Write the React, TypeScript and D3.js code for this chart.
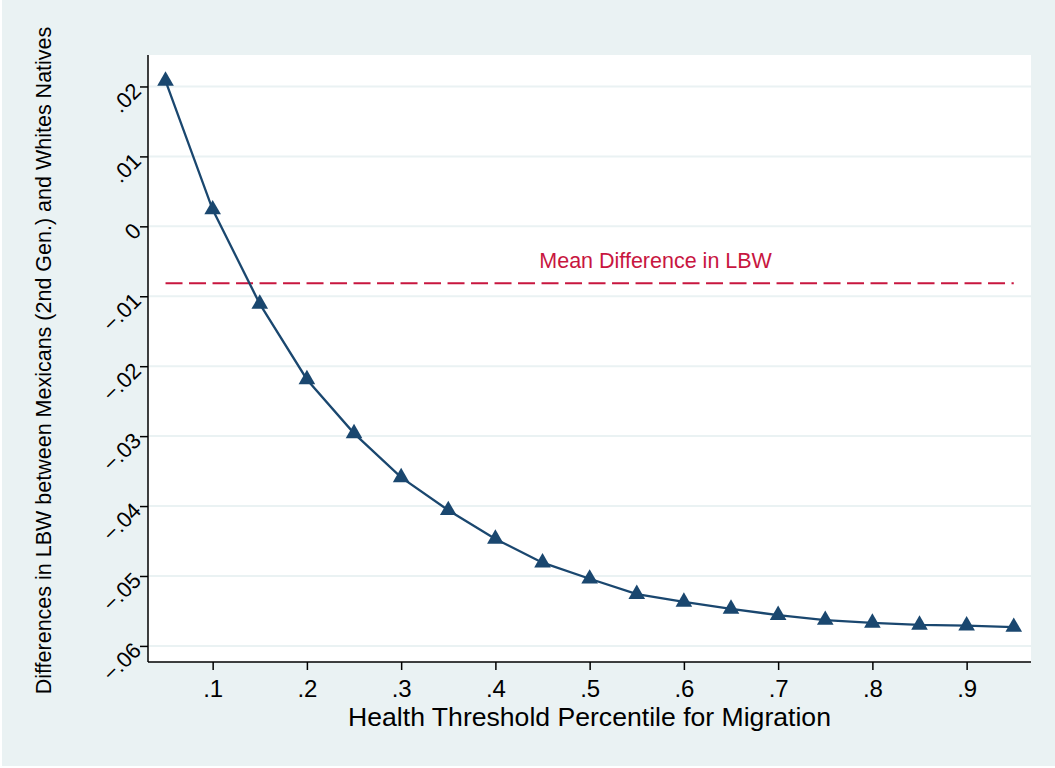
import React, { useEffect, useRef } from 'react';
import * as d3 from 'd3';

// Health threshold percentiles (x) and differences in LBW (y)
const thresholds = [0.05, 0.1, 0.15, 0.2, 0.25, 0.3, 0.35, 0.4, 0.45, 0.5, 0.55, 0.6, 0.65, 0.7, 0.75, 0.8, 0.85, 0.9, 0.95];
const differences = [
  0.0208, 0.0024, -0.0111, -0.0219, -0.0296, -0.0359, -0.0406, -0.0447, -0.0481, -0.0504,
  -0.0526, -0.0537, -0.0547, -0.0556, -0.0563, -0.0567, -0.057, -0.0571, -0.0573,
];
const meanDifference = -0.00814;
const meanLabel = 'Mean Difference in LBW';
const xTicks = [0.1, 0.2, 0.3, 0.4, 0.5, 0.6, 0.7, 0.8, 0.9];
const yTicks = [-0.06, -0.05, -0.04, -0.03, -0.02, -0.01, 0, 0.01, 0.02];
const xTitle = 'Health Threshold Percentile for Migration';
const yTitle = 'Differences in LBW between Mexicans (2nd Gen.) and Whites Natives';

const fmt = (v: number) => {
  if (Math.abs(v) < 1e-9) return '0';
  return d3.format('.2~f')(v).replace('0.', '.');
};

const App: React.FC = () => {
  const svgRef = useRef<SVGSVGElement>(null);

  useEffect(() => {
    const width = 1055;
    const height = 768;
    const svg = d3.select(svgRef.current!);
    svg.selectAll('*').remove();

    const bg = '#eaf2f3';
    const navy = '#1a476f';
    const font = 'Liberation Sans, Arial, sans-serif';

    // Plot region bounds
    const left = 148;
    const right = 1031;
    const top = 55;
    const bottom = 662;

    svg.append('rect').attr('width', width).attr('height', height).attr('fill', '#ffffff');
    svg.append('rect').attr('x', 2).attr('y', 0).attr('width', width - 2).attr('height', height - 2).attr('fill', bg);
    svg.append('rect')
      .attr('x', left).attr('y', top)
      .attr('width', right - left).attr('height', bottom - top)
      .attr('fill', '#ffffff');

    const x = d3.scaleLinear().domain([0.0314, 0.9683]).range([left, right]);
    const y = d3.scaleLinear().domain([-0.0623, 0.0245]).range([bottom, top]);

    // Grid lines
    svg.append('g')
      .selectAll('line')
      .data(yTicks)
      .enter()
      .append('line')
      .attr('x1', left + 1)
      .attr('x2', right)
      .attr('y1', (d) => y(d))
      .attr('y2', (d) => y(d))
      .attr('stroke', bg)
      .attr('stroke-width', 2);

    // Y axis
    const yAxis = d3.axisLeft(y).tickValues(yTicks).tickSize(8).tickPadding(4).tickFormat((d) => fmt(d as number));
    const gy = svg.append('g').attr('transform', `translate(${left},0)`).call(yAxis);
    gy.select('.domain').attr('stroke', '#000').attr('stroke-width', 1.5).attr('d', `M0,${top}V${bottom}`);
    gy.selectAll('.tick line').attr('stroke', '#000').attr('stroke-width', 1.5);
    gy.selectAll<SVGTextElement, number>('.tick text')
      .attr('x', -11)
      .attr('dy', '0.35em')
      .attr('transform', 'rotate(-45,-11,0)')
      .attr('text-anchor', 'end')
      .attr('fill', '#000')
      .style('font-family', font)
      .style('font-size', '22px');

    // X axis
    const xAxis = d3.axisBottom(x).tickValues(xTicks).tickSize(8).tickPadding(10).tickFormat((d) => fmt(d as number));
    const gx = svg.append('g').attr('transform', `translate(0,${bottom})`).call(xAxis);
    gx.select('.domain').attr('stroke', '#000').attr('stroke-width', 1.5).attr('d', `M${left},0H${right}`);
    gx.selectAll('.tick line').attr('stroke', '#000').attr('stroke-width', 1.5);
    gx.selectAll('.tick text')
      .attr('fill', '#000')
      .style('font-family', font)
      .style('font-size', '24px');

    // Mean difference line
    svg.append('line')
      .attr('x1', x(thresholds[0]))
      .attr('x2', x(thresholds[thresholds.length - 1]))
      .attr('y1', y(meanDifference))
      .attr('y2', y(meanDifference))
      .attr('stroke', '#c8163f')
      .attr('stroke-width', 2)
      .attr('stroke-dasharray', '17,6.5');

    svg.append('text')
      .attr('x', x(0.57))
      .attr('y', y(meanDifference) - 15)
      .attr('text-anchor', 'middle')
      .attr('fill', '#c8163f')
      .style('font-family', font)
      .style('font-size', '21.5px')
      .text(meanLabel);

    // Series line
    const points = thresholds.map((t, i) => [t, differences[i]] as [number, number]);
    const line = d3.line<[number, number]>().x((d) => x(d[0])).y((d) => y(d[1]));
    svg.append('path')
      .datum(points)
      .attr('d', line)
      .attr('fill', 'none')
      .attr('stroke', navy)
      .attr('stroke-width', 2.3);

    // Triangle markers
    const tri = d3.symbol().type(d3.symbolTriangle).size(120);
    svg.append('g')
      .selectAll('path')
      .data(points)
      .enter()
      .append('path')
      .attr('d', tri)
      .attr('transform', (d) => `translate(${x(d[0])},${y(d[1])})`)
      .attr('fill', navy);

    // Axis titles
    svg.append('text')
      .attr('x', (left + right) / 2)
      .attr('y', 726)
      .attr('text-anchor', 'middle')
      .attr('fill', '#000')
      .style('font-family', font)
      .style('font-size', '26.6px')
      .text(xTitle);

    svg.append('text')
      .attr('transform', `translate(51,${(top + bottom) / 2 + 2}) rotate(-90)`)
      .attr('text-anchor', 'middle')
      .attr('fill', '#000')
      .style('font-family', font)
      .style('font-size', '21.5px')
      .text(yTitle);
  }, []);

  return (
    <svg
      ref={svgRef}
      width={1055}
      height={768}
      style={{ position: 'absolute', left: 0, top: 0, display: 'block' }}
    />
  );
};

export default App;
